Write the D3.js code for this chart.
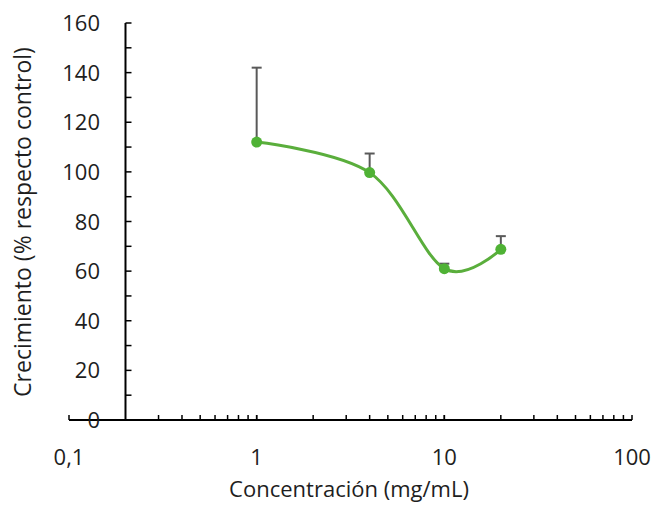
<!DOCTYPE html>
<head>
    <title>Crecimiento vs concentración</title>
    <meta charset="utf-8">
    <style>
        body { margin: 0; background: #fff; }
        text { font-family: "Open Sans", sans-serif; fill: #1e1e1e; }
    </style>
</head>
<body>
<div id="graph"></div>
</body>

<script src="https://d3js.org/d3.v7.min.js"></script>

<script>
    // data
    var conc = [1, 4, 10, 20];            // mg/mL
    var growth = [112, 99.7, 61, 68.8];   // % respecto control
    var errUp = [30, 7.7, 2, 5.3];        // upper error bar only
    var xTickLabels = ["0,1", "1", "10", "100"];
    var yTicks = [0, 20, 40, 60, 80, 100, 120, 140, 160];

    var W = 651, H = 506;

    var svg = d3.select("#graph").append("svg")
        .attr("width", W)
        .attr("height", H);

    // Set X (log)
    var xScale = d3.scaleLog()
        .domain([0.1, 100])
        .range([69, 632]);

    // Set Y
    var yScale = d3.scaleLinear()
        .domain([0, 160])
        .range([420, 23]);

    var yAxisX = xScale(0.2); // y axis crosses x at 0.2

    // x axis line + ticks (pointing up)
    svg.append("line")
        .attr("x1", xScale(0.1)).attr("x2", xScale(100))
        .attr("y1", yScale(0)).attr("y2", yScale(0))
        .attr("stroke", "#000").attr("stroke-width", 2);

    var xMinor = [];
    [0.1, 1, 10].forEach(function(d) {
        for (var k = 1; k <= 10; k++) xMinor.push(d * k);
    });
    xMinor = xMinor.filter(function(v) { return Math.abs(v - 0.2) > 1e-9; });

    svg.selectAll(".xtick").data(xMinor).enter().append("line")
        .attr("class", "xtick")
        .attr("x1", function(d) { return xScale(d); })
        .attr("x2", function(d) { return xScale(d); })
        .attr("y1", yScale(0)).attr("y2", yScale(0) - 5)
        .attr("stroke", "#000").attr("stroke-width", 1.5);

    svg.selectAll(".xlab").data([0.1, 1, 10, 100]).enter().append("text")
        .attr("class", "xlab")
        .attr("x", function(d) { return xScale(d); })
        .attr("y", 465)
        .attr("text-anchor", "middle")
        .style("font-size", "22px")
        .text(function(d, i) { return xTickLabels[i]; });

    // y axis line + ticks (pointing right)
    svg.append("line")
        .attr("x1", yAxisX).attr("x2", yAxisX)
        .attr("y1", yScale(0)).attr("y2", yScale(160))
        .attr("stroke", "#000").attr("stroke-width", 2);

    svg.selectAll(".ytick").data(d3.range(0, 161, 10)).enter().append("line")
        .attr("class", "ytick")
        .attr("x1", yAxisX).attr("x2", yAxisX + 6)
        .attr("y1", function(d) { return yScale(d); })
        .attr("y2", function(d) { return yScale(d); })
        .attr("stroke", "#000").attr("stroke-width", 1.5);

    svg.selectAll(".ylab").data(yTicks).enter().append("text")
        .attr("class", "ylab")
        .attr("x", 100)
        .attr("y", function(d) { return yScale(d) + 8; })
        .attr("text-anchor", "end")
        .style("font-size", "22px")
        .text(function(d) { return d; });

    // axis titles
    svg.append("text")
        .attr("x", 349).attr("y", 497)
        .attr("text-anchor", "middle")
        .style("font-size", "22px")
        .text("Concentración (mg/mL)");

    svg.append("text")
        .attr("transform", "translate(31,222) rotate(-90)")
        .attr("text-anchor", "middle")
        .style("font-size", "23px")
        .text("Crecimiento (% respecto control)");

    var pts = conc.map(function(c, i) {
        return { x: c, y: growth[i], e: errUp[i] };
    });

    // error bars
    var eb = svg.selectAll(".err").data(pts).enter().append("g").attr("class", "err");
    eb.append("line")
        .attr("x1", function(d) { return xScale(d.x); })
        .attr("x2", function(d) { return xScale(d.x); })
        .attr("y1", function(d) { return yScale(d.y); })
        .attr("y2", function(d) { return yScale(d.y + d.e); })
        .attr("stroke", "#595959").attr("stroke-width", 2);
    eb.append("line")
        .attr("x1", function(d) { return xScale(d.x) - 5; })
        .attr("x2", function(d) { return xScale(d.x) + 5; })
        .attr("y1", function(d) { return yScale(d.y + d.e); })
        .attr("y2", function(d) { return yScale(d.y + d.e); })
        .attr("stroke", "#595959").attr("stroke-width", 2);

    // smoothed line
    var line = d3.line()
        .x(function(d) { return xScale(d.x); })
        .y(function(d) { return yScale(d.y); })
        .curve(d3.curveCatmullRom.alpha(0));

    svg.append("path")
        .datum(pts)
        .attr("d", line)
        .attr("fill", "none")
        .attr("stroke", "#5aae3c")
        .attr("stroke-width", 3);

    svg.selectAll(".pt").data(pts).enter().append("circle")
        .attr("class", "pt")
        .attr("cx", function(d) { return xScale(d.x); })
        .attr("cy", function(d) { return yScale(d.y); })
        .attr("r", 5.5)
        .attr("fill", "#4fb235");
</script>
